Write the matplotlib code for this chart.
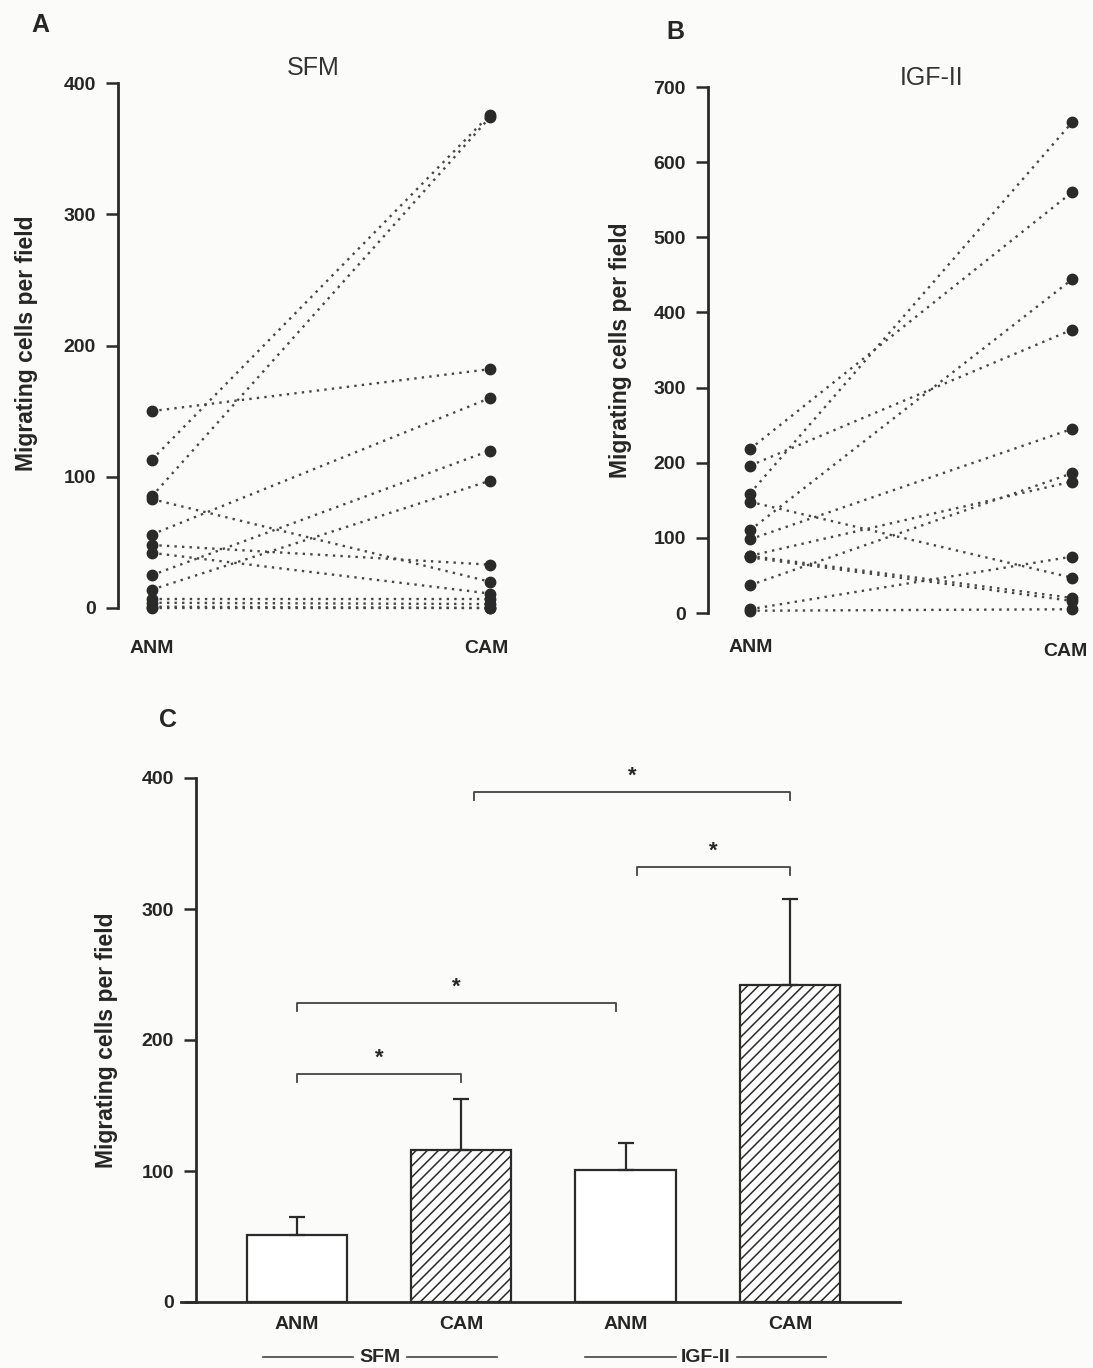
import matplotlib
matplotlib.use("Agg")
import matplotlib.pyplot as plt
import numpy as np

plt.rcParams['font.family'] = ['Liberation Sans', 'DejaVu Sans']
plt.rcParams['hatch.linewidth'] = 1.1

# ---- Data ----
groups_pair = ["ANM", "CAM"]

sfm_anm = [150, 113, 85, 83, 56, 48, 42, 25, 14, 7, 4, 1, 0]
sfm_cam = [182, 376, 374, 20, 160, 33, 11, 120, 97, 7, 3, 0, 0]

igf_anm = [218, 196, 159, 148, 110, 98, 76, 76, 74, 37, 5, 3]
igf_cam = [560, 377, 653, 47, 444, 245, 175, 20, 16, 186, 75, 5]

bar_labels = ["ANM", "CAM", "ANM", "CAM"]
bar_means = [51, 116, 101, 242]
bar_err = [14, 39, 20, 66]
bar_hatch = [False, True, False, True]
group_names = ["SFM", "IGF-II"]

# brackets: (i, j, y)
brackets = [(0, 1, 174), (0, 2, 228), (2, 3, 332), (1, 3, 389)]

W, H = 1093, 1368
fig = plt.figure(figsize=(W / 100, H / 100), dpi=100, facecolor='#fbfbfa')

def fr(l, r, b, t):
    return [l / W, 1 - b / H, (r - l) / W, (b - t) / H]

dark = '#2a2a2a'
txt = '#262626'
YLAB = "Migrating cells per field"

def style_y(ax, yticks):
    ax.set_yticks(yticks)
    ax.tick_params(axis='y', length=9, width=1.8, color=dark, labelsize=14, pad=7)
    for lab in ax.get_yticklabels():
        lab.set_fontweight('bold')
        lab.set_color(txt)

def paired(ax, anm, cam, ymax, yticks, xl, xr):
    for a, c in zip(anm, cam):
        ax.plot([0, 1], [a, c], linestyle=(0, (1, 2.2)), color='#474747', lw=1.7,
                clip_on=False, zorder=2)
        ax.plot([0, 1], [a, c], 'o', color=dark, ms=7.5, clip_on=False, zorder=3,
                linestyle='none')
    ax.set_xlim(xl, xr)
    ax.set_ylim(0, ymax)
    for s in ['top', 'right', 'bottom']:
        ax.spines[s].set_visible(False)
    ax.spines['left'].set_linewidth(2)
    ax.spines['left'].set_color(dark)
    style_y(ax, yticks)
    ax.set_xticks([])
    ax.patch.set_alpha(0)

# Panel A
axA = fig.add_axes(fr(118, 505, 608, 83))
paired(axA, sfm_anm, sfm_cam, 400, [0, 100, 200, 300, 400], -0.10, 1.044)
fig.text(152 / W, 1 - 649 / H, groups_pair[0], ha='center', va='center', fontsize=14, fontweight='bold', color=txt)
fig.text(486 / W, 1 - 649 / H, groups_pair[1], ha='center', va='center', fontsize=14, fontweight='bold', color=txt)
fig.text(313 / W, 1 - 68 / H, group_names[0], ha='center', va='center', fontsize=18, color='#333333')
fig.text(40 / W, 1 - 25 / H, "A", ha='center', va='center', fontsize=18, fontweight='bold', color=txt)
fig.text(27 / W, 1 - 343 / H, YLAB, rotation=90, ha='center', va='center', fontsize=16.5, fontweight='bold', color=txt)

# Panel B
axB = fig.add_axes(fr(708, 1085, 613, 87))
paired(axB, igf_anm, igf_cam, 700, [0, 100, 200, 300, 400, 500, 600, 700], -0.13, 1.04)
fig.text(751 / W, 1 - 647 / H, groups_pair[0], ha='center', va='center', fontsize=14, fontweight='bold', color=txt)
fig.text(1065 / W, 1 - 652 / H, groups_pair[1], ha='center', va='center', fontsize=14, fontweight='bold', color=txt)
fig.text(932 / W, 1 - 78 / H, group_names[1], ha='center', va='center', fontsize=18, color='#333333')
fig.text(675 / W, 1 - 32 / H, "B", ha='center', va='center', fontsize=18, fontweight='bold', color=txt)
fig.text(621 / W, 1 - 350 / H, YLAB, rotation=90, ha='center', va='center', fontsize=16.5, fontweight='bold', color=txt)

# Panel C
axC = fig.add_axes(fr(181, 900, 1302, 778))
x = np.arange(len(bar_means))
for xi, m, e, h in zip(x, bar_means, bar_err, bar_hatch):
    axC.bar(xi, m, width=0.61, facecolor='white', edgecolor=dark, lw=1.6,
            hatch='///' if h else None, zorder=2)
    axC.errorbar(xi, m, yerr=[[0], [e]], fmt='none', ecolor=dark, elinewidth=1.6,
                 capsize=6, capthick=1.6, zorder=3)
axC.set_xlim(-0.706, 3.67)
axC.set_ylim(0, 400)
for s in ['top', 'right']:
    axC.spines[s].set_visible(False)
for s in ['left', 'bottom']:
    axC.spines[s].set_linewidth(2)
    axC.spines[s].set_color(dark)
axC.spines['left'].set_position(('data', -0.615))
style_y(axC, [0, 100, 200, 300, 400])
axC.tick_params(axis='x', length=0, labelsize=14, pad=10)
axC.set_xticks(x)
axC.set_xticklabels(bar_labels)
for lab in axC.get_xticklabels():
    lab.set_fontweight('bold')
    lab.set_color(txt)
axC.patch.set_alpha(0)

for i, j, y in brackets:
    xi, xj = float(x[i]), float(x[j])
    if i == 0 and j == 2:
        xj -= 0.06
    if i == 2 and j == 3:
        xi += 0.07
    if i == 1 and j == 3:
        xi += 0.08
    axC.plot([xi, xi, xj, xj], [y - 6, y, y, y - 6], color='#444444', lw=1.3,
             clip_on=False)
    axC.text((xi + xj) / 2, y + 4, "*", ha='center', va='bottom', fontsize=16,
             fontweight='bold', color=txt)

fig.text(168 / W, 1 - 720 / H, "C", ha='center', va='center', fontsize=18, fontweight='bold', color=txt)
fig.text(106 / W, 1 - 1040 / H, YLAB, rotation=90, ha='center', va='center', fontsize=16.5, fontweight='bold', color=txt)

# group labels with side lines
for (xc, name, l1, l2) in [(380, group_names[0], (263, 353), (407, 497)),
                           (706, group_names[1], (585, 676), (737, 826))]:
    fig.text(xc / W, 1 - 1358 / H, name, ha='center', va='center', fontsize=14,
             fontweight='bold', color=txt)
    for a, b in (l1, l2):
        fig.add_artist(plt.Line2D([a / W, b / W], [1 - 1357 / H, 1 - 1357 / H],
                                  color='#444444', lw=1.2))

fig.savefig("out.png", dpi=100, facecolor=fig.get_facecolor())
